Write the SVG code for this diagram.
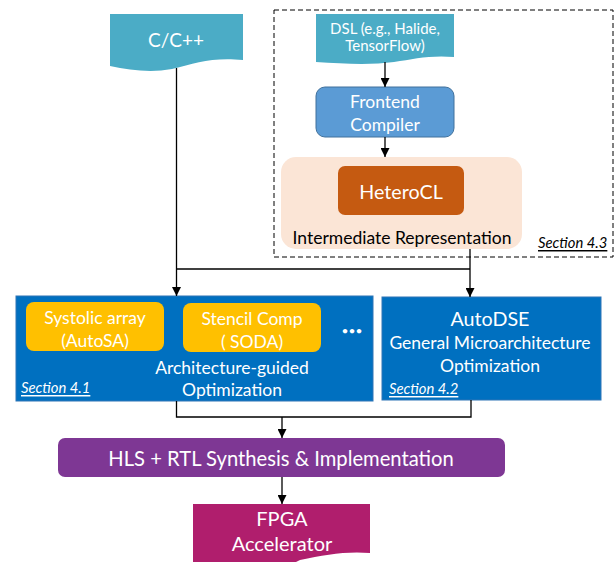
<svg xmlns="http://www.w3.org/2000/svg" width="616" height="562" viewBox="0 0 616 562">
<style>
text{font-family:Lato,"Open Sans","Liberation Sans",sans-serif;text-anchor:middle;dominant-baseline:central}
.w{fill:#fff}
.k{fill:#000}
.m{font-size:17.5px}
.l{font-size:19.7px}
.sec{font-style:italic;text-decoration:underline;font-size:14.8px;text-anchor:start}
.ln{fill:none;stroke:#000;stroke-width:1.3}
</style>
<defs>
<marker id="ah" viewBox="0 0 10 10" refX="10" refY="5" markerWidth="9" markerHeight="9" markerUnits="userSpaceOnUse" orient="auto">
<path d="M0,0 L10,5 L0,10 Z" fill="#000"/>
</marker>
</defs>
<rect x="0" y="0" width="616" height="562" fill="#fff"/>
<g id="section43">
<rect x="274" y="10" width="339" height="247" fill="none" stroke="#000" stroke-width="1" stroke-dasharray="5,3"/>
<text class="sec k" x="538" y="242">Section 4.3</text>
</g>
<g id="cpp">
<path d="M110,14 H243 V60 C212,57 196,63 172,69 C150,73 130,70 110,66 Z" fill="#4BACC6"/>
<text class="w" x="176" y="39" font-size="19">C/C++</text>
</g>
<g id="dsl">
<path d="M316,14 H454 V57 C430,55 414,59 394,62 C372,65 345,64 316,62 Z" fill="#4BACC6"/>
<text class="w" x="385" y="28" font-size="15">DSL (e.g., Halide,</text>
<text class="w" x="385" y="45" font-size="15">TensorFlow)</text>
</g>
<g id="frontend">
<rect x="316" y="87" width="138" height="50" rx="9" fill="#5B9BD5" stroke="#41719C" stroke-width="1"/>
<text class="w m" x="385" y="101">Frontend</text>
<text class="w m" x="385" y="124">Compiler</text>
</g>
<g id="ir">
<rect x="281" y="157" width="241" height="92" rx="15" fill="#FBE5D6"/>
<text class="k m" x="402" y="237">Intermediate Representation</text>
</g>
<g id="heterocl">
<rect x="338" y="166" width="126" height="49" rx="7" fill="#C55A11"/>
<text class="w l" x="401" y="191">HeteroCL</text>
</g>
<g id="arch">
<rect x="16" y="296" width="357" height="105" fill="#0070C0" stroke="#2E75B6" stroke-width="1"/>
<text class="w m" x="232" y="367">Architecture-guided</text>
<text class="w m" x="232" y="389">Optimization</text>
<text class="sec w" x="21" y="387">Section 4.1</text>
<text class="w" x="352" y="330" font-size="12">•••</text>
</g>
<g id="systolic">
<rect x="26" y="302" width="138" height="49" rx="8" fill="#FFC000"/>
<text class="w m" x="95" y="317">Systolic array</text>
<text class="w m" x="95" y="340">(AutoSA)</text>
</g>
<g id="stencil">
<rect x="183" y="303" width="138" height="49" rx="8" fill="#FFC000"/>
<text class="w m" x="252" y="318">Stencil Comp</text>
<text class="w m" x="252" y="341">( SODA)</text>
</g>
<g id="autodse">
<rect x="382" y="297" width="219" height="103" fill="#0070C0" stroke="#2E75B6" stroke-width="1"/>
<text class="w l" x="490" y="318">AutoDSE</text>
<text class="w m" x="490" y="342">General Microarchitecture</text>
<text class="w m" x="490" y="365">Optimization</text>
<text class="sec w" x="389" y="388">Section 4.2</text>
</g>
<g id="hls">
<rect x="58" y="438" width="447" height="39" rx="7" fill="#7E3794"/>
<text class="w" x="281" y="458" font-size="20.2">HLS + RTL Synthesis &amp; Implementation</text>
</g>
<g id="fpga">
<path d="M193,504 H370 V553 C345,551 325,555 300,560 L296,562 H193 Z" fill="#B01E6D"/>
<text class="w" x="282" y="518" font-size="20">FPGA</text>
<text class="w" x="282" y="543" font-size="20">Accelerator</text>
</g>
<g id="connectors">
<line class="ln" x1="385" y1="62" x2="385" y2="87" marker-end="url(#ah)"/>
<line class="ln" x1="385" y1="137" x2="385" y2="157" marker-end="url(#ah)"/>
<line class="ln" x1="176.5" y1="68" x2="176.5" y2="296" marker-end="url(#ah)"/>
<polyline class="ln" points="176.5,269 470,269"/>
<line class="ln" x1="470" y1="249" x2="470" y2="297" marker-end="url(#ah)"/>
<polyline class="ln" points="176.5,401 176.5,417 471,417 471,400"/>
<line class="ln" x1="282" y1="417" x2="282" y2="438" marker-end="url(#ah)"/>
<line class="ln" x1="282" y1="477" x2="282" y2="504" marker-end="url(#ah)"/>
</g>
</svg>
